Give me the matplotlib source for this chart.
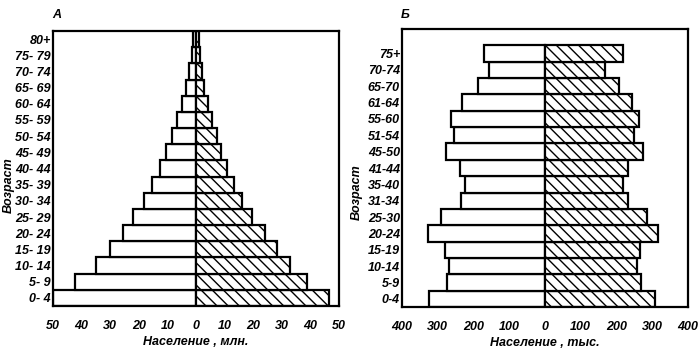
import matplotlib
matplotlib.use("Agg")
import matplotlib.pyplot as plt
import numpy as np

plt.rcParams['font.family'] = ['Liberation Sans', 'DejaVu Sans']
plt.rcParams['hatch.linewidth'] = 1.0

# Panel A (millions)
ages_a = ["0- 4", "5- 9", "10- 14", "15- 19", "20- 24", "25- 29", "30- 34", "35- 39",
          "40- 44", "45- 49", "50- 54", "55- 59", "60- 64", "65- 69", "70- 74", "75- 79", "80+"]
left_a = [50, 42.4, 35.1, 30.1, 25.6, 21.9, 18.1, 15.3, 12.6, 10.4, 8.5, 6.7, 5.0, 3.6, 2.4, 1.5, 0.9]
right_a = [46.6, 38.7, 33.0, 28.2, 24.1, 19.5, 16.2, 13.4, 10.7, 8.7, 7.2, 5.5, 4.1, 2.8, 2.0, 1.4, 0.9]
xticks_a = [-50, -40, -30, -20, -10, 0, 10, 20, 30, 40, 50]

# Panel B (thousands)
ages_b = ["0-4", "5-9", "10-14", "15-19", "20-24", "25-30", "31-34", "35-40",
          "41-44", "45-50", "51-54", "55-60", "61-64", "65-70", "70-74", "75+"]
left_b = [324, 273, 268, 280, 326, 292, 236, 223, 237, 276, 254, 262, 232, 188, 157, 171]
right_b = [309, 269, 256, 267, 315, 284, 231, 219, 233, 275, 249, 264, 243, 206, 169, 217]
xticks_b = [-400, -300, -200, -100, 0, 100, 200, 300, 400]

W, H = 700, 352
fig = plt.figure(figsize=(W/100, H/100), dpi=100)
axA = fig.add_axes([53/W, 1-306/H, (339-53)/W, (306-31)/H])
axB = fig.add_axes([402/W, 1-307/H, (688-402)/W, (307-29)/H])

fs = 9
fw = 'bold'
lw = 1.6

def draw(ax, ages, left, right, xticks, xlim, ylim, xlabel):
    y = np.arange(len(ages))
    ax.barh(y, [-v for v in left], height=1.0, color='white', edgecolor='black', linewidth=lw)
    ax.barh(y, right, height=1.0, color='white', edgecolor='black', linewidth=lw, hatch='\\\\\\')
    ax.set_xlim(*xlim)
    ax.set_ylim(*ylim)
    ax.set_yticks(y)
    ax.set_yticklabels(ages, fontsize=fs, fontstyle='italic', fontweight=fw)
    ax.set_xticks(xticks)
    ax.set_xticklabels([str(abs(t)) for t in xticks], fontsize=fs, fontstyle='italic', fontweight=fw)
    ax.tick_params(axis='y', length=0, pad=1.5)
    ax.tick_params(axis='x', length=0, pad=10)
    for s in ax.spines.values():
        s.set_linewidth(lw)
    ax.set_xlabel(xlabel, fontsize=fs, fontstyle='italic', fontweight=fw, labelpad=3)

draw(axA, ages_a, left_a, right_a, xticks_a, (-50, 50), (-0.5, 16.5), "Население , млн.")
draw(axB, ages_b, left_b, right_b, xticks_b, (-400, 400), (-0.5, 16.5), "Население , тыс.")

def ftext(x, y, s, **kw):
    fig.text(x/W, 1-y/H, s, fontsize=fs, fontstyle='italic', fontweight=fw,
             ha='center', va='center', **kw)

ftext(9, 185, "Возраст", rotation=90)
ftext(357, 192, "Возраст", rotation=90)
ftext(57, 15, "А")
ftext(405, 15, "Б")

fig.savefig("out.png", dpi=100)
